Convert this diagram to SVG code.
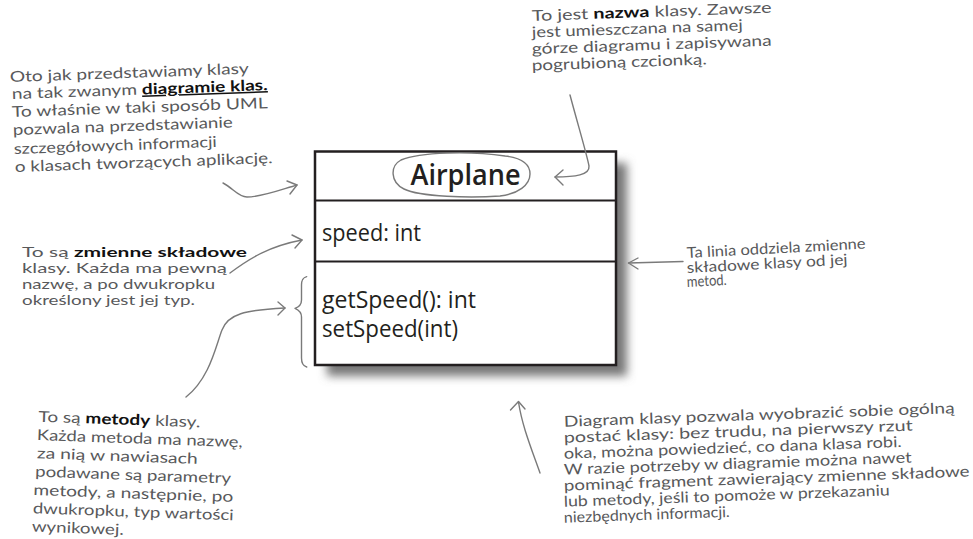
<svg xmlns="http://www.w3.org/2000/svg" width="973" height="539" viewBox="0 0 973 539">
<style>
.hw{font-family:Lato,"DejaVu Sans",sans-serif;font-size:15px;fill:#58595b;}
.sm{font-size:13.5px;}
.b{font-weight:bold;fill:#111;}
.u{text-decoration:underline;}
.uml{font-family:"Open Sans","Liberation Sans",sans-serif;fill:#231f20;}
.arr{fill:none;stroke:#7a7a7a;stroke-width:1.4;stroke-linecap:round;stroke-linejoin:round;}
</style>
<defs>
<filter id="sh" x="-20%" y="-20%" width="140%" height="140%"><feGaussianBlur stdDeviation="5"/></filter>
</defs>
<rect width="973" height="539" fill="#fff"/>

<g id="airplane">
<rect x="327" y="163" width="300" height="213" fill="#777" filter="url(#sh)"/>
<rect x="315" y="151.5" width="301" height="213.5" fill="#fff" stroke="#231f20" stroke-width="2.5"/>
<line x1="315" y1="200.5" x2="616" y2="200.5" stroke="#231f20" stroke-width="2.2"/>
<line x1="315" y1="261.5" x2="616" y2="261.5" stroke="#231f20" stroke-width="2.2"/>
<text class="uml" x="410.5" y="185" font-size="28" font-weight="600" textLength="110" lengthAdjust="spacingAndGlyphs">Airplane</text>
<text class="uml" x="322" y="241" font-size="24" textLength="99" lengthAdjust="spacingAndGlyphs">speed: int</text>
<text class="uml" x="322" y="308" font-size="23" textLength="154" lengthAdjust="spacingAndGlyphs">getSpeed(): int</text>
<text class="uml" x="322" y="336.5" font-size="23" textLength="136" lengthAdjust="spacingAndGlyphs">setSpeed(int)</text>
</g>

<g id="note-class-diagram">
<text class="hw" x="10" y="82" transform="rotate(-2 10 82)" textLength="239" lengthAdjust="spacingAndGlyphs">Oto jak przedstawiamy klasy</text>
<text class="hw" x="12" y="99" transform="rotate(-2 12 99)" textLength="256" lengthAdjust="spacingAndGlyphs">na tak zwanym <tspan class="b u">diagramie klas.</tspan></text>
<text class="hw" x="12" y="117" transform="rotate(-2 12 117)" textLength="256" lengthAdjust="spacingAndGlyphs">To właśnie w taki sposób UML</text>
<text class="hw" x="13" y="135" transform="rotate(-2 13 135)" textLength="220" lengthAdjust="spacingAndGlyphs">pozwala na przedstawianie</text>
<text class="hw" x="14" y="154" transform="rotate(-2 14 154)" textLength="203" lengthAdjust="spacingAndGlyphs">szczegółowych informacji</text>
<text class="hw" x="15" y="172" transform="rotate(-2 15 172)" textLength="258" lengthAdjust="spacingAndGlyphs">o klasach tworzących aplikację.</text>
</g>

<g id="note-name">
<text class="hw" x="532" y="21" transform="rotate(-2 532 21)" textLength="240" lengthAdjust="spacingAndGlyphs">To jest <tspan class="b">nazwa</tspan> klasy. Zawsze</text>
<text class="hw" x="532" y="37.5" transform="rotate(-2 532 37.5)" textLength="211" lengthAdjust="spacingAndGlyphs">jest umieszczana na samej</text>
<text class="hw" x="532" y="54" transform="rotate(-2 532 54)" textLength="240" lengthAdjust="spacingAndGlyphs">górze diagramu i zapisywana</text>
<text class="hw" x="532" y="70.5" transform="rotate(-2 532 70.5)" textLength="175" lengthAdjust="spacingAndGlyphs">pogrubioną czcionką.</text>
</g>

<g id="note-fields">
<text class="hw sm" x="22" y="257" textLength="225" lengthAdjust="spacingAndGlyphs">To są <tspan class="b">zmienne składowe</tspan></text>
<text class="hw sm" x="22" y="273" textLength="205" lengthAdjust="spacingAndGlyphs">klasy. Każda ma pewną</text>
<text class="hw sm" x="22" y="289" textLength="193" lengthAdjust="spacingAndGlyphs">nazwę, a po dwukropku</text>
<text class="hw sm" x="22" y="305" textLength="173" lengthAdjust="spacingAndGlyphs">określony jest jej typ.</text>
</g>

<g id="note-line">
<text class="hw" x="687" y="258" transform="rotate(-3 687 258)" textLength="179" lengthAdjust="spacingAndGlyphs">Ta linia oddziela zmienne</text>
<text class="hw" x="687" y="273" transform="rotate(-3 687 273)" textLength="161" lengthAdjust="spacingAndGlyphs">składowe klasy od jej</text>
<text class="hw" x="687" y="287" transform="rotate(-3 687 287)" textLength="40" lengthAdjust="spacingAndGlyphs">metod.</text>
</g>

<g id="note-methods">
<text class="hw" x="38.3" y="421.7" transform="rotate(2 38.3 421.7)" textLength="162" lengthAdjust="spacingAndGlyphs">To są <tspan class="b">metody</tspan> klasy.</text>
<text class="hw" x="36.7" y="440" transform="rotate(2 36.7 440)" textLength="206" lengthAdjust="spacingAndGlyphs">Każda metoda ma nazwę,</text>
<text class="hw" x="36.7" y="458.3" transform="rotate(2 36.7 458.3)" textLength="161" lengthAdjust="spacingAndGlyphs">za nią w nawiasach</text>
<text class="hw" x="35" y="476.6" transform="rotate(2 35 476.6)" textLength="196" lengthAdjust="spacingAndGlyphs">podawane są parametry</text>
<text class="hw" x="33.3" y="495" transform="rotate(2 33.3 495)" textLength="200" lengthAdjust="spacingAndGlyphs">metody, a następnie, po</text>
<text class="hw" x="32.7" y="513.3" transform="rotate(2 32.7 513.3)" textLength="201" lengthAdjust="spacingAndGlyphs">dwukropku, typ wartości</text>
<text class="hw" x="31.7" y="531.6" transform="rotate(2 31.7 531.6)" textLength="92" lengthAdjust="spacingAndGlyphs">wynikowej.</text>
</g>

<g id="note-overview">
<text class="hw" x="564" y="426.7" transform="rotate(-2 564 426.7)" textLength="391" lengthAdjust="spacingAndGlyphs">Diagram klasy pozwala wyobrazić sobie ogólną</text>
<text class="hw" x="564" y="442.7" transform="rotate(-2 564 442.7)" textLength="349" lengthAdjust="spacingAndGlyphs">postać klasy: bez trudu, na pierwszy rzut</text>
<text class="hw" x="564" y="458.7" transform="rotate(-2 564 458.7)" textLength="338" lengthAdjust="spacingAndGlyphs">oka, można powiedzieć, co dana klasa robi.</text>
<text class="hw" x="564" y="474.7" transform="rotate(-2 564 474.7)" textLength="348" lengthAdjust="spacingAndGlyphs">W razie potrzeby w diagramie można nawet</text>
<text class="hw" x="564" y="490.7" transform="rotate(-2 564 490.7)" textLength="406" lengthAdjust="spacingAndGlyphs">pominąć fragment zawierający zmienne składowe</text>
<text class="hw" x="564" y="506.7" transform="rotate(-2 564 506.7)" textLength="326" lengthAdjust="spacingAndGlyphs">lub metody, jeśli to pomoże w przekazaniu</text>
<text class="hw" x="564" y="522.7" transform="rotate(-2 564 522.7)" textLength="166" lengthAdjust="spacingAndGlyphs">niezbędnych informacji.</text>
</g>

<g id="connectors">
<path class="arr" d="M505,156 C470,151 420,152 401,160 C390,166 390,182 404,189 C420,197 470,198 500,196 C518,194 530,185 530,174 C530,164 522,158 505,156"/>
<path class="arr" d="M223,183 C233,188 238,197 247,197 C262,197 280,190 297,185"/>
<path class="arr" d="M287,181 L297,185 L290,194"/>
<path class="arr" d="M230,273 C250,258 270,246 302,240"/>
<path class="arr" d="M292,235 L302,240 L295,248"/>
<path class="arr" d="M186,397 C210,378 216,345 222,330 C228,314 245,310 285,308"/>
<path class="arr" d="M278,302 L285,308 L278,315"/>
<path class="arr" d="M306.7,276.7 C302,278 301.5,281 301.5,285 L301.5,300 C301.5,305 299,307 295,308.3 C299,310 301.5,312 301.5,317 L301.5,358 C301.5,363 303,366 306.7,367"/>
<path class="arr" d="M570,95 C578,125 587,155 589,166 C590,175 575,177 555,177"/>
<path class="arr" d="M563,170 L555,177 L563,185"/>
<path class="arr" d="M683,261.5 L628.5,263"/>
<path class="arr" d="M638,258 L628.5,263 L638,269"/>
<path class="arr" d="M540,473 C530,445 522,425 518.5,402"/>
<path class="arr" d="M510.5,410 L518.5,401.5 L525,409"/>
</g>
</svg>
